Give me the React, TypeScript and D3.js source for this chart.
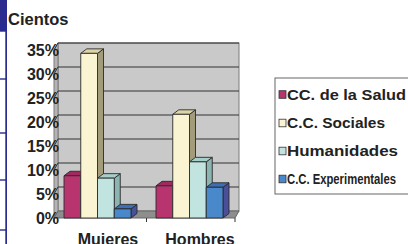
import React from "react";
import * as d3 from "d3";

const categories = ["Mujeres", "Hombres"];
const seriesNames = ["CC. de la Salud", "C.C. Sociales", "Humanidades", "C.C. Experimentales"];
const salud = [8.8, 6.7];
const sociales = [34.3, 21.6];
const humanidades = [8.3, 11.7];
const experimentales = [1.9, 6.4];
const tickValues = [0, 5, 10, 15, 20, 25, 30, 35];

const seriesValues = [salud, sociales, humanidades, experimentales];
const front = ["#b8346f", "#faf4d2", "#c2e4e0", "#4a88cc"];
const side = ["#7a2048", "#a39c7a", "#8cb4b0", "#4a4f9a"];
const top = ["#a02a60", "#dcd4a8", "#a6cfca", "#3c6fb6"];
const legendWidths = [119, 98, 111, 109];

const DX = 4, DY = 7; // wall depth
const BDX = 6, BDY = 4.5; // bar depth

export default function App() {
  const yBack = d3.scaleLinear().domain([0, 35]).range([211, 43]);
  const yFront = (v: number) => yBack(v) + DY;
  const x0 = d3.scaleBand().domain(categories).range([51.5, 235.5]).paddingInner(25 / 92).paddingOuter(12.5 / 92);
  const x1 = d3.scaleBand().domain(seriesNames).range([0, x0.bandwidth()]);
  const left = 54, right = 235;
  const base = yFront(0);
  const ink = "#222";
  const font = "'Liberation Sans', Arial, sans-serif";

  return (
    <div style={{ position: "fixed", left: 0, top: 0 }}>
      <svg width={408} height={244} style={{ display: "block", background: "#fff" }}>
        {/* left page decoration */}
        <rect x={0} y={0} width={7} height={31} fill="#2b2b8f" />
        <rect x={5.3} y={31} width={1.7} height={213} fill="#2b2b8f" />
        {[31, 79, 133, 180, 230].map((y) => (
          <rect key={y} x={0} y={y - 0.7} width={7} height={1.4} fill="#2b2b8f" />
        ))}

        <text x={8} y={24.5} fontFamily={font} fontWeight="bold" fontSize={16.5} fill={ink}>Cientos</text>

        {/* walls */}
        <rect x={left + DX} y={yBack(35)} width={right - left} height={yBack(0) - yBack(35)} fill="#c9c9c9" stroke="#7a7a7a" strokeWidth={1} />
        <polygon points={`${left},${yFront(35)} ${left + DX},${yBack(35)} ${left + DX},${yBack(0)} ${left},${base}`} fill="#b4b4b4" stroke="#7a7a7a" strokeWidth={1} />
        {tickValues.slice(1).map((t) => (
          <polyline key={t} points={`${left},${yFront(t)} ${left + DX},${yBack(t)} ${right + DX},${yBack(t)}`} fill="none" stroke="#333" strokeWidth={1} />
        ))}
        <polygon points={`${left},${base} ${left + DX},${yBack(0)} ${right + DX},${yBack(0)} ${right},${base}`} fill="#8e8e8e" stroke="#666" strokeWidth={1} />
        {[left, (left + right) / 2 + 2, right].map((x) => (
          <line key={x} x1={x} x2={x} y1={base} y2={base + 4} stroke="#333" strokeWidth={1} />
        ))}

        {/* bars */}
        {categories.map((c, ci) => (
          <g key={c}>
            {seriesNames.map((s, si) => {
              const v = seriesValues[si][ci];
              const xa = (x0(c) ?? 0) + (x1(s) ?? 0);
              const w = x1.bandwidth();
              const yt = yFront(v);
              return (
                <g key={s} stroke="#2a2a2a" strokeWidth={0.9} strokeLinejoin="round">
                  <polygon points={`${xa + w},${yt} ${xa + w + BDX},${yt - BDY} ${xa + w + BDX},${base - BDY} ${xa + w},${base}`} fill={side[si]} />
                  <polygon points={`${xa},${yt} ${xa + BDX},${yt - BDY} ${xa + w + BDX},${yt - BDY} ${xa + w},${yt}`} fill={top[si]} />
                  <rect x={xa} y={yt} width={w} height={base - yt} fill={front[si]} />
                </g>
              );
            })}
          </g>
        ))}

        {/* y tick labels */}
        {tickValues.map((t) => (
          <text key={t} x={59} y={yFront(t)} dy="0.36em" textAnchor="end" fontFamily={font} fontWeight="bold" fontSize={16} fill={ink}>
            {d3.format(".0%")(t / 100)}
          </text>
        ))}

        {/* category labels */}
        {categories.map((c) => (
          <text key={c} x={(x0(c) ?? 0) + x0.bandwidth() / 2 + 10.5} y={244.5} textAnchor="middle" fontFamily={font} fontWeight="bold" fontSize={16} fill={ink}>
            {c}
          </text>
        ))}

        {/* legend */}
        <rect x={275} y={78} width={150} height={116} fill="#fff" stroke="#666" strokeWidth={1} />
        {seriesNames.map((s, i) => {
          const cy = [94.5, 123, 151, 179][i];
          return (
            <g key={s}>
              <rect x={279} y={cy - 3.8} width={7} height={7.6} fill={front[i]} stroke="#333" strokeWidth={0.8} />
              <text x={287} y={cy} dy="0.36em" fontFamily={font} fontWeight="bold" fontSize={i === 3 ? 14 : 15} fill={ink}
                textLength={legendWidths[i]} lengthAdjust="spacingAndGlyphs">
                {s}
              </text>
            </g>
          );
        })}
      </svg>
    </div>
  );
}
